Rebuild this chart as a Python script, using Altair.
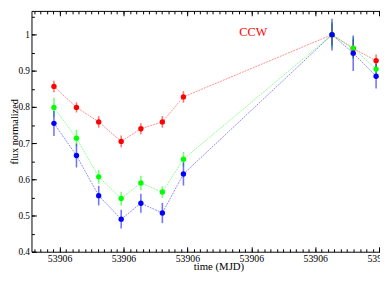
import altair as alt
import pandas as pd

# ---- data ----
times = [53906.0956, 53906.1132, 53906.1306, 53906.1482, 53906.1636,
         53906.1804, 53906.1969, 53906.3131, 53906.3297, 53906.3476]
red_flux = [0.857, 0.799, 0.759, 0.705, 0.740, 0.759, 0.828, 1.000, 0.962, 0.928]
red_err = [0.016, 0.014, 0.016, 0.016, 0.015, 0.016, 0.016, 0.030, 0.025, 0.017]
green_flux = [0.799, 0.714, 0.607, 0.547, 0.590, 0.565, 0.656, 1.000, 0.963, 0.905]
green_err = [0.027, 0.023, 0.019, 0.019, 0.020, 0.016, 0.020, 0.035, 0.030, 0.020]
blue_flux = [0.755, 0.666, 0.555, 0.490, 0.534, 0.507, 0.615, 1.000, 0.949, 0.885]
blue_err = [0.035, 0.033, 0.027, 0.026, 0.026, 0.028, 0.032, 0.044, 0.049, 0.034]

series_names = ["red", "green", "blue"]
series_colors = ["#ff0000", "#00ff00", "#0000ff"]

annot_label = ["CCW"]
annot_t = [53906.2515]
annot_flux = [0.997]

# tick positions / labels
major_x = [53906.10, 53906.15, 53906.20, 53906.25, 53906.30, 53906.35]
minor_x = [round(53906.080 + 0.005 * i, 3) for i in range(59)]
major_y = [0.4, 0.5, 0.6, 0.7, 0.8, 0.9, 1.0]
minor_y = [round(0.40 + 0.05 * i, 2) for i in range(14)]

x_domain = [53906.078025, 53906.3721]
y_domain = [0.4, 1.0658]

W, H = 384, 246
FONT = "Liberation Serif"
MAJ, MIN = 5, 3

rows = []
for name, fl, er in zip(series_names, [red_flux, green_flux, blue_flux],
                        [red_err, green_err, blue_err]):
    for t, f, e in zip(times, fl, er):
        rows.append({"series": name, "t": t, "flux": f, "lo": f - e, "hi": f + e})
df = pd.DataFrame(rows)
annot = pd.DataFrame({"label": annot_label, "t": annot_t, "flux": annot_flux})

xs = alt.Scale(domain=x_domain, nice=False, zero=False)
ys = alt.Scale(domain=y_domain, nice=False, zero=False)
cs = alt.Scale(domain=series_names, range=series_colors)

# label axes (no ticks)
ax_x_lab = alt.Axis(orient="bottom", values=major_x, tickCount=500,
                    labelExpr="'' + floor(datum.value)", ticks=False, domain=False,
                    grid=False, labelFont=FONT, labelFontSize=10, labelColor="black",
                    labelPadding=2, labelFlush=False, labelOverlap=False,
                    title="time (MJD)", titleFont=FONT, titleFontSize=11,
                    titleFontWeight="normal", titleColor="black",
                    titleY=18, titleBaseline="alphabetic",
                    titleX=191, titleAlign="center")
ax_y_lab = alt.Axis(orient="left", values=major_y, tickCount=500, format="~g",
                    ticks=False, domain=False,
                    grid=False, labelFont=FONT, labelFontSize=9.5, labelColor="black",
                    labelPadding=2, labelFlush=False, labelOverlap=False,
                    title="flux normalized", titleFont=FONT, titleFontSize=10.5,
                    titleFontWeight="normal", titleColor="black",
                    titleX=-14.6, titleBaseline="alphabetic", titleAngle=270)


def tick_axis(orient, values, size, offset):
    return alt.Axis(orient=orient, offset=offset, values=values, tickCount=500,
                    tickSize=size, labels=False, domain=False, grid=False, title="",
                    tickColor="black", tickWidth=1)


base = alt.Chart(df)

lines = base.mark_line(strokeWidth=1, strokeDash=[2, 1], opacity=0.45).encode(
    x=alt.X("t:Q", scale=xs, axis=ax_x_lab),
    y=alt.Y("flux:Q", scale=ys, axis=ax_y_lab),
    color=alt.Color("series:N", scale=cs, legend=None),
)

errs = base.mark_rule(strokeWidth=1.6, opacity=0.55).encode(
    x=alt.X("t:Q", scale=xs, axis=tick_axis("top", major_x, MAJ, -H)),
    y=alt.Y("lo:Q", scale=ys, axis=tick_axis("right", major_y, MAJ, -W)),
    y2="hi:Q",
    color=alt.Color("series:N", scale=cs, legend=None),
)

points = base.mark_circle(size=30, opacity=1).encode(
    x=alt.X("t:Q", scale=xs, axis=tick_axis("top", minor_x, MIN, -H)),
    y=alt.Y("flux:Q", scale=ys, axis=tick_axis("right", minor_y, MIN, -W)),
    color=alt.Color("series:N", scale=cs, legend=None),
)

text = alt.Chart(annot).mark_text(font=FONT, fontSize=12.5, color="#ff0000",
                                  align="center", baseline="alphabetic").encode(
    x=alt.X("t:Q", scale=xs, axis=tick_axis("bottom", major_x, MAJ, -H)),
    y=alt.Y("flux:Q", scale=ys, axis=None),
    text="label:N",
)

ghost = base.mark_circle(size=1, opacity=0).encode(
    x=alt.X("t:Q", scale=xs, axis=tick_axis("bottom", minor_x, MIN, -H)),
    y=alt.Y("flux:Q", scale=ys, axis=None),
)

chart = alt.layer(lines, errs, points, text, ghost).resolve_axis(
    x="independent", y="independent"
).properties(
    width=W, height=H,
    autosize=alt.AutoSizeParams(type="none"),
    padding={"left": 24, "top": 0, "right": -28, "bottom": 30},
).configure_view(stroke="black", strokeWidth=1)

chart.save("out.html", embed_options={"renderer": "svg", "actions": False})
